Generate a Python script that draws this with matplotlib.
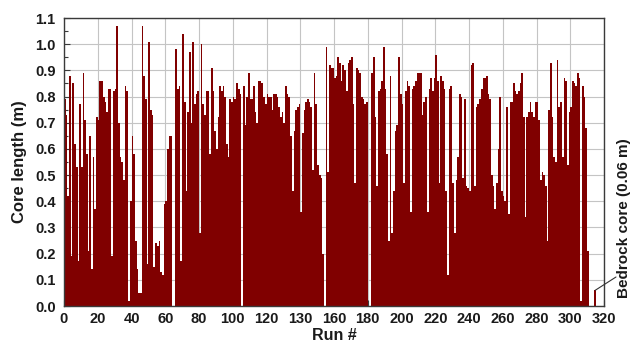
import matplotlib
matplotlib.use("Agg")
import matplotlib.pyplot as plt
import numpy as np
from matplotlib.ticker import MultipleLocator, FixedLocator

# ---- data (core length per run, m) ----
core_length = [
    0.79, 0.73, 0.42, 0.88, 0.19, 0.85, 0.62, 0.53, 0.17, 0.77,
    0.53, 0.89, 0.71, 0.58, 0.21, 0.65, 0.14, 0.57, 0.37, 0.72,
    0.71, 0.86, 0.86, 0.80, 0.78, 0.74, 0.83, 0.83, 0.19, 0.82,
    0.83, 1.07, 0.70, 0.57, 0.55, 0.48, 0.84, 0.82, 0.02, 0.40,
    0.65, 0.58, 0.25, 0.14, 0.05, 0.05, 1.07, 0.88, 0.79, 0.16,
    1.01, 0.75, 0.73, 0.15, 0.24, 0.23, 0.25, 0.13, 0.12, 0.39,
    0.40, 0.60, 0.65, 0.65, 0.00, 0.00, 0.98, 0.83, 0.84, 0.17,
    1.04, 0.78, 0.44, 0.74, 0.97, 0.70, 1.01, 0.77, 0.81, 0.82,
    0.28, 1.00, 0.77, 0.73, 0.82, 0.82, 0.58, 0.91, 0.82, 0.67,
    0.60, 0.72, 0.84, 0.82, 0.84, 0.80, 0.62, 0.57, 0.79, 0.78,
    0.80, 0.79, 0.85, 0.83, 0.81, 0.00, 0.84, 0.69, 0.80, 0.89,
    0.79, 0.79, 0.84, 0.74, 0.70, 0.86, 0.86, 0.85, 0.80, 0.77,
    0.81, 0.80, 0.80, 0.75, 0.81, 0.81, 0.80, 0.76, 0.72, 0.74,
    0.70, 0.84, 0.81, 0.80, 0.65, 0.44, 0.67, 0.75, 0.76, 0.77,
    0.36, 0.66, 0.75, 0.78, 0.79, 0.78, 0.76, 0.52, 0.89, 0.77,
    0.54, 0.50, 0.49, 0.20, 0.00, 0.99, 0.51, 0.92, 0.91, 0.91,
    0.87, 0.88, 0.95, 0.93, 0.86, 0.92, 0.90, 0.82, 0.93, 0.94,
    0.95, 0.77, 0.47, 0.91, 0.90, 0.89, 0.80, 0.79, 0.77, 0.78,
    0.00, 0.00, 0.89, 0.95, 0.72, 0.46, 0.82, 0.83, 0.86, 0.99,
    0.83, 0.58, 0.25, 0.88, 0.28, 0.44, 0.67, 0.69, 0.95, 0.81,
    0.77, 0.47, 0.82, 0.86, 0.84, 0.36, 0.83, 0.84, 0.86, 0.89,
    0.89, 0.89, 0.73, 0.78, 0.80, 0.36, 0.83, 0.87, 0.82, 0.87,
    0.96, 0.86, 0.47, 0.88, 0.86, 0.83, 0.44, 0.12, 0.83, 0.84,
    0.47, 0.28, 0.48, 0.57, 0.81, 0.80, 0.49, 0.79, 0.46, 0.45,
    0.44, 0.92, 0.93, 0.46, 0.76, 0.77, 0.79, 0.83, 0.87, 0.87,
    0.88, 0.81, 0.79, 0.50, 0.46, 0.37, 0.47, 0.60, 0.80, 0.44,
    0.42, 0.40, 0.76, 0.35, 0.78, 0.78, 0.85, 0.82, 0.81, 0.82,
    0.85, 0.89, 0.72, 0.34, 0.72, 0.74, 0.78, 0.74, 0.72, 0.78,
    0.78, 0.71, 0.48, 0.51, 0.50, 0.46, 0.25, 0.75, 0.93, 0.72,
    0.57, 0.55, 0.94, 0.76, 0.78, 0.57, 0.87, 0.86, 0.54, 0.74,
    0.76, 0.86, 0.85, 0.84, 0.89, 0.87, 0.02, 0.84, 0.80, 0.68,
    0.21, 0.00, 0.00, 0.00, 0.06,
]
runs = list(range(len(core_length)))

x_tick_pos = [0, 20, 40, 60, 80, 100, 120, 140, 160, 180, 200, 220, 240, 260, 280, 300, 320]
x_tick_labels = ["0", "20", "40", "60", "80", "100", "120", "130", "160", "180",
                 "200", "220", "240", "260", "280", "300", "320"]
y_ticks = [round(0.1 * i, 1) for i in range(12)]

annotation_text = "Bedrock core (0.06 m)"
bedrock_run = 314
bedrock_value = 0.06

# ---- figure ----
plt.rcParams['font.family'] = ['Liberation Sans', 'DejaVu Sans']
fig = plt.figure(figsize=(6.34, 3.49), dpi=100)
ax = fig.add_axes([64 / 634, 1 - 306 / 349, 540 / 634, 288 / 349])

bar_color = "#800000"
ax.bar(runs, core_length, width=1.0, align="edge", color=bar_color,
       edgecolor="none", linewidth=0, zorder=2)

ax.set_xlim(0, 320)
ax.set_ylim(0, 1.1)

ax.xaxis.set_major_locator(FixedLocator(x_tick_pos))
ax.set_xticklabels(x_tick_labels)
ax.set_yticks(y_ticks)
ax.set_yticklabels([f"{v:.1f}" for v in y_ticks])
ax.yaxis.set_minor_locator(MultipleLocator(0.05))

ax.grid(True, which="major", color="#c4c4c4", linewidth=0.8, zorder=0)
ax.set_axisbelow(True)

for s in ax.spines.values():
    s.set_color("#3a3a3a")
    s.set_linewidth(1.0)

ax.tick_params(axis="both", which="major", direction="in", length=4,
               width=0.8, colors="#3a3a3a", labelcolor="#1a1a1a",
               labelsize=10.5, pad=4)
ax.tick_params(axis="y", which="minor", direction="in", length=3,
               width=0.8, colors="#3a3a3a")
ax.tick_params(axis="y", which="major", pad=6)
for lab in ax.get_xticklabels() + ax.get_yticklabels():
    lab.set_fontweight("bold")

ax.set_xlabel("Run #", fontsize=11.5, fontweight="bold", color="#1a1a1a", labelpad=2)
ax.set_ylabel("Core length (m)", fontsize=12, fontweight="bold", color="#1a1a1a", labelpad=6)

# bedrock annotation
ax.annotate("", xy=(bedrock_run + 0.8, bedrock_value), xycoords="data",
            xytext=(616, 349 - 277), textcoords="figure pixels",
            arrowprops=dict(arrowstyle="-", color="#333333", lw=0.8,
                            shrinkA=0, shrinkB=0),
            annotation_clip=False)
fig.text(624 / 634, 1 - 298 / 349, annotation_text, rotation=90,
         ha="center", va="bottom", fontsize=11, fontweight="bold",
         color="#1a1a1a")

fig.savefig("out.png", dpi=100)
